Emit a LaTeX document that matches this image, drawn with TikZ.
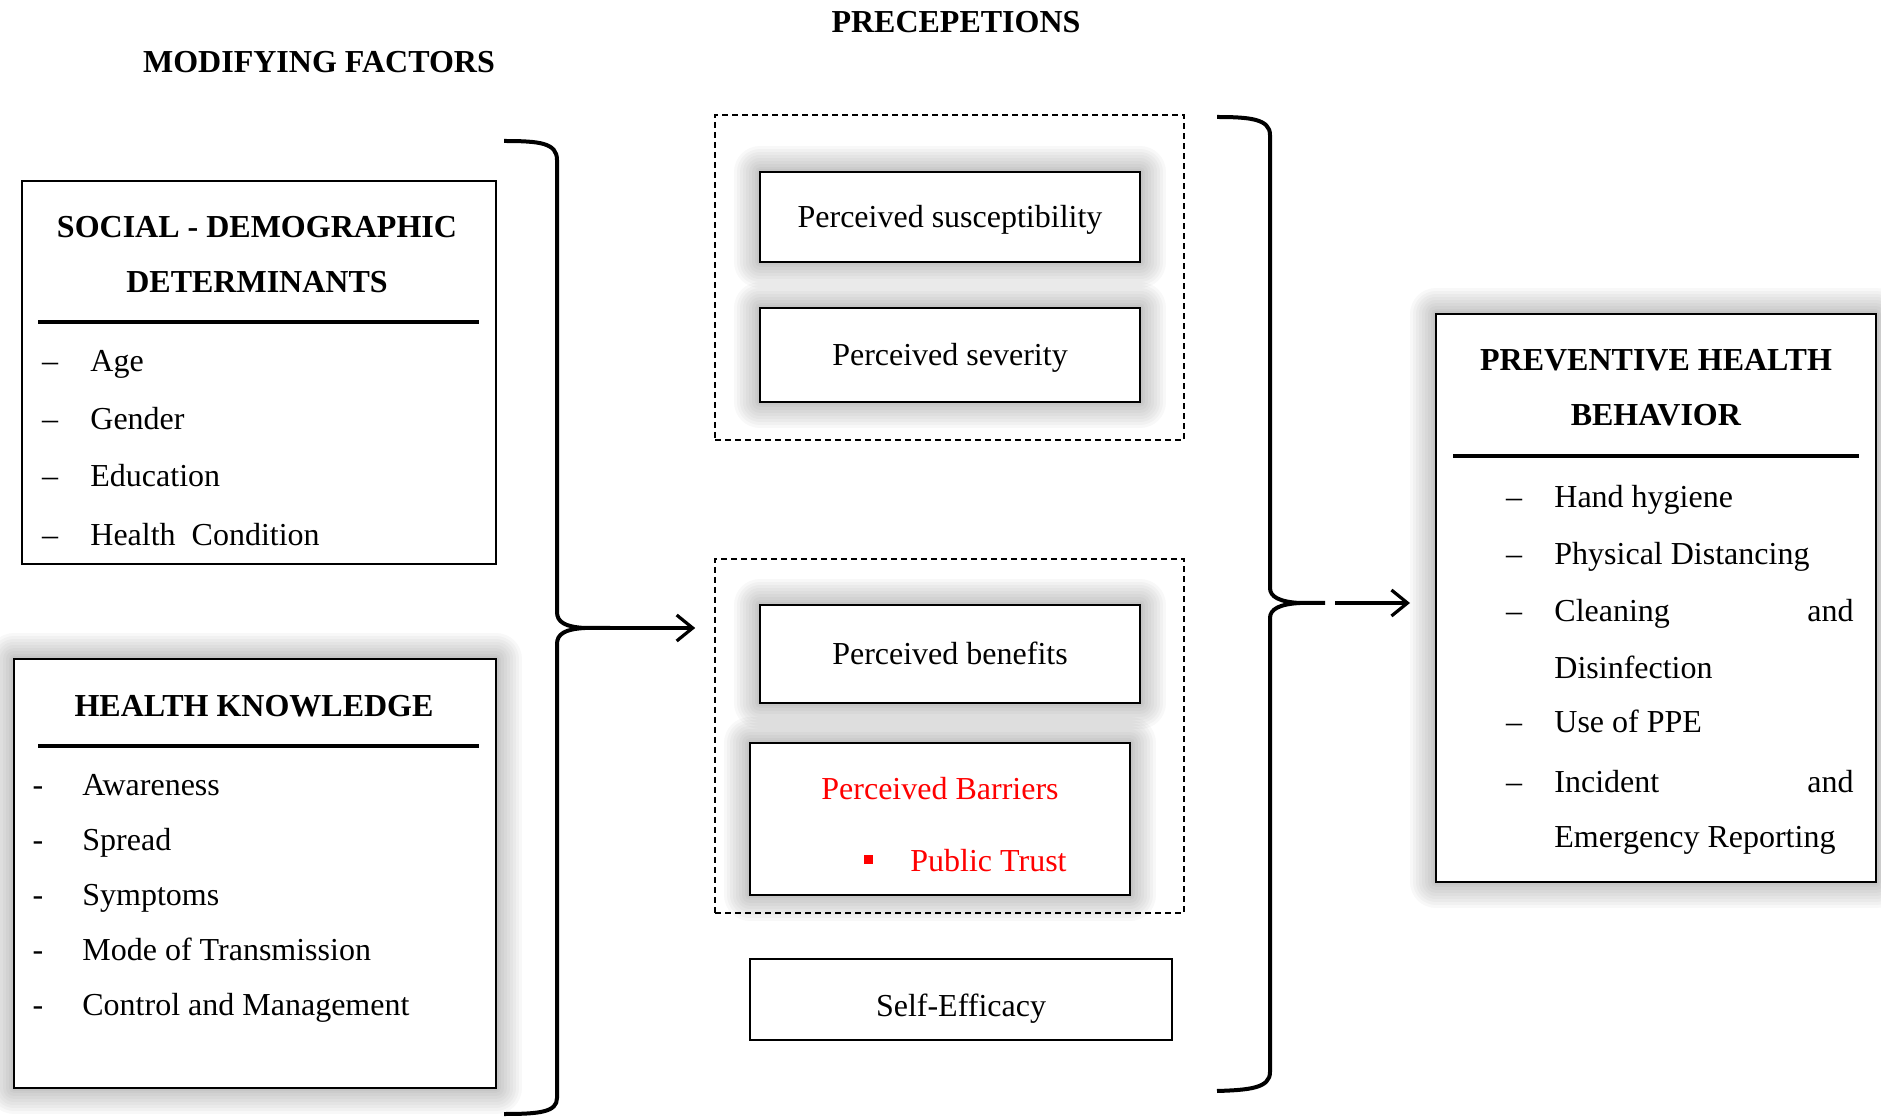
\documentclass[tikz,border=0pt]{standalone}
\usepackage{fontspec}
\setmainfont{Liberation Serif}
\usetikzlibrary{arrows.meta}
\begin{document}
\begin{tikzpicture}[x=0.5pt,y=-0.5pt,
  font=\fontsize{16}{19}\selectfont,
  box/.style={draw=black, line width=1pt, fill=white, inner sep=0pt},
  dbox/.style={draw=black, line width=0.8pt, dash pattern=on 3pt off 2pt, inner sep=0pt},
  gl/.style={preaction={draw=black, draw opacity=0.028, line width=#1, line join=round}},
  glow/.style={gl=26pt, gl=23pt, gl=20pt, gl=17pt, gl=14pt, gl=11pt, gl=8pt, gl=5pt, gl=3pt},
  txt/.style={inner sep=0pt, text height=11pt, text depth=0pt},
  item/.style={txt, anchor=west},
  rule/.style={line width=2pt},
  brace/.style={line width=2pt},
  arr/.style={line width=1.6pt, -{Straight Barb[length=8pt,width=13pt,line width=1.6pt]}},
  red text/.style={text=red}
]
\useasboundingbox (0,0) rectangle (1881,1117);

% ---------- headings ----------
\node[txt] (prec) at (956,22) {\textbf{PRECEPETIONS}};
\node[txt] (modf) at (319,62) {\textbf{MODIFYING FACTORS}};

% ---------- social-demographic box ----------
\node[box, minimum width=237pt, minimum height=191.5pt] (sd) at (259,372.5) {};
\node[txt] (sdt1) at (257,227) {\textbf{SOCIAL - DEMOGRAPHIC}};
\node[txt] (sdt2) at (257,282) {\textbf{DETERMINANTS}};
\draw[rule] (38,322) -- (479,322);
\foreach \y/\t [count=\i] in {361/Age, 419/Gender, 476/Education, 535/{Health\ \ Condition}}{
  \node[txt] (sdd\i) at (50,\y) {--};
  \node[item] (sdi\i) at (90,\y) {\t};
}

% ---------- health knowledge box ----------
\node[box, glow, minimum width=241pt, minimum height=214.5pt] (hk) at (255,873.5) {};
\node[txt] (hkt) at (254,706) {\textbf{HEALTH KNOWLEDGE}};
\draw[rule] (38,746) -- (479,746);
\foreach \y/\t [count=\i] in {784/Awareness, 839/Spread, 894/Symptoms, 949/Mode of Transmission, 1004/Control and Management}{
  \node[txt] (hkd\i) at (38,\y) {-};
  \node[item] (hki\i) at (82,\y) {\t};
}

% ---------- perceptions ----------
\node[box, glow, minimum width=190pt, minimum height=45pt, txt] (sus) at (950,217) {Perceived susceptibility};
\node[box, glow, minimum width=190pt, minimum height=47pt, txt] (sev) at (950,355) {Perceived severity};
\node[box, glow, minimum width=190pt, minimum height=49pt, txt] (ben) at (950,654) {Perceived benefits};
\node[box, glow, minimum width=190pt, minimum height=76pt] (bar) at (940,819) {};
\node[txt, red text] (bart) at (940,788) {Perceived Barriers};
\node[fill=red, minimum size=4.5pt, inner sep=0pt] (barb) at (868,859) {};
\node[item, red text] (bari) at (910,860) {Public Trust};
\node[box, minimum width=211pt, minimum height=40.5pt] (self) at (961,999.5) {};
\node[txt] (selft) at (961,1005) {Self-Efficacy};

\node[dbox, minimum width=234.5pt, minimum height=162.5pt] (topgrp) at (949.5,277.5) {};
\node[dbox, minimum width=234.5pt, minimum height=177pt] (botgrp) at (949.5,736) {};

% ---------- preventive health behavior ----------
\node[box, glow, minimum width=220pt, minimum height=284pt] (phb) at (1656,598) {};
\node[txt] (pht1) at (1656,360) {\textbf{PREVENTIVE HEALTH}};
\node[txt] (pht2) at (1656,415) {\textbf{BEHAVIOR}};
\draw[rule] (1453,456) -- (1859,456);
\foreach \y/\t [count=\i] in {497/Hand hygiene, 554/Physical Distancing, 611/Cleaning, 722/Use of PPE, 781/Incident}{
  \node[txt] (phd\i) at (1514,\y) {--};
  \node[item] (phi\i) at (1554,\y) {\t};
}
\node[item] (phc1) at (1554,667) {Disinfection};
\node[item] (phc2) at (1554,836) {Emergency Reporting};
\node[txt, anchor=east] (pha1) at (1854,611) {and};
\node[txt, anchor=east] (pha2) at (1854,781) {and};

% ---------- left brace and arrow ----------
\coordinate (ltip) at (610,628);
\coordinate (lend) at (ltip -| botgrp.west);
\draw[brace] (504,141) .. controls (540,141) and (557,143) .. (557,160) -- (557,612)
  .. controls (557,622) and (565,627) .. (585,628) -- (ltip);
\draw[brace] (585,628) .. controls (565,629) and (557,634) .. (557,644) -- (557,1098)
  .. controls (557,1112) and (540,1114) .. (504,1114);
\draw[arr, shorten >=9.5pt] (ltip) -- (lend);

% ---------- right brace and arrow ----------
\coordinate (rtip) at (1325,603);
\coordinate (rstart) at (1335,603);
\draw[brace] (1217,117) .. controls (1250,117) and (1270,119) .. (1270,135) -- (1270,588)
  .. controls (1270,597) and (1280,602) .. (1300,603) -- (rtip);
\draw[brace] (1300,603) .. controls (1280,604) and (1270,609) .. (1270,618) -- (1270,1072)
  .. controls (1270,1088) and (1250,1090) .. (1217,1091);
\draw[arr, shorten >=12.5pt] (rstart) -- (rstart -| phb.west);
\end{tikzpicture}
\end{document}
